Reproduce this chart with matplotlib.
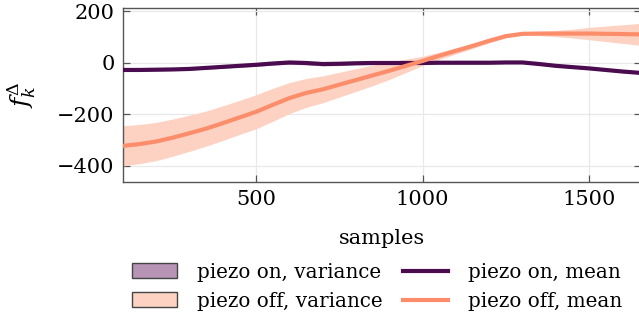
import matplotlib
matplotlib.use("Agg")
import matplotlib.pyplot as plt
from matplotlib.patches import Patch
from matplotlib.lines import Line2D

samples = [100, 150, 200, 250, 300, 350, 400, 450, 500, 550, 600, 650, 700, 750,
           800, 850, 900, 950, 1000, 1050, 1100, 1150, 1200, 1250, 1300, 1350,
           1400, 1450, 1500, 1550, 1600, 1650]

on_mean = [-28, -28, -27, -26, -24, -20, -16, -12, -8, -3, 1, -1, -5, -4,
           -2, -1, -1, -1, -1, 0, 0, 0, 0, 1, 1, -5,
           -12, -17, -22, -28, -34, -39]
on_spread = [4, 4, 4, 4, 4, 5, 5, 5, 6, 6, 7, 7, 7, 7,
             6, 6, 5, 5, 4, 4, 4, 4, 4, 4, 4, 4,
             4, 4, 4, 4, 4, 4]

off_mean = [-322, -315, -305, -290, -273, -255, -234, -212, -190, -163, -137, -117, -103, -85,
            -67, -49, -31, -12, 7, 27, 46, 65, 85, 103, 112, 113,
            113, 113, 113, 112, 111, 110]
off_spread = [78, 76, 74, 72, 70, 68, 67, 66, 66, 64, 60, 56, 52, 48,
              44, 40, 34, 26, 18, 14, 12, 10, 8, 6, 5, 8,
              12, 17, 24, 30, 36, 42]

on_color = "#4b0c4f"
on_fill = "#b794b6"
off_color = "#fc8d6b"
off_fill = "#fdd2c3"

plt.rcParams["font.family"] = "DejaVu Serif"
plt.rcParams["mathtext.fontset"] = "dejavuserif"

fig = plt.figure(figsize=(6.39, 3.22), dpi=100)
ax = fig.add_axes([123 / 639, 1 - 182 / 322, 518 / 639, 174 / 322])

on_lo = [m - s for m, s in zip(on_mean, on_spread)]
on_hi = [m + s for m, s in zip(on_mean, on_spread)]
off_lo = [m - s for m, s in zip(off_mean, off_spread)]
off_hi = [m + s for m, s in zip(off_mean, off_spread)]

ax.fill_between(samples, on_lo, on_hi, color=on_fill, lw=0, zorder=2)
ax.fill_between(samples, off_lo, off_hi, color=off_fill, lw=0, zorder=2)
ax.plot(samples, on_mean, color=on_color, lw=3.0, zorder=3)
ax.plot(samples, off_mean, color=off_color, lw=3.0, zorder=3)

ax.set_xlim(100, 1656)
ax.set_ylim(-462, 212)
ax.set_xticks([500, 1000, 1500])
ax.set_yticks([-400, -200, 0, 200])
ax.set_yticklabels(["\u2212400", "\u2212200", "0", "200"])
ax.grid(True, color="#e8e8e8", lw=0.9, zorder=0)
ax.set_axisbelow(True)
ax.tick_params(direction="in", length=5, width=0.9, color="#555555",
               top=True, right=True, labelsize=15, pad=6)
for sp in ax.spines.values():
    sp.set_color("#555555")
    sp.set_linewidth(1.0)

ax.set_xlabel("samples", fontsize=15, labelpad=14)
ax.set_ylabel(r"$f_k^{\Delta}$", fontsize=18, labelpad=14)

handles = [
    Patch(facecolor=on_fill, edgecolor="#444444", lw=1.0),
    Patch(facecolor=off_fill, edgecolor="#444444", lw=1.0),
    Line2D([], [], color=on_color, lw=3.0),
    Line2D([], [], color=off_color, lw=3.0),
]
labels = ["piezo on, variance", "piezo off, variance",
          "piezo on, mean", "piezo off, mean"]
fig.legend(handles, labels, ncol=2, loc="upper center",
           bbox_to_anchor=(0.59, 0.215), frameon=False, fontsize=14.3,
           handlelength=2.3, handleheight=0.75, columnspacing=1.0,
           handletextpad=1.0, labelspacing=0.5, borderpad=0)

fig.savefig("out.png", dpi=100)
